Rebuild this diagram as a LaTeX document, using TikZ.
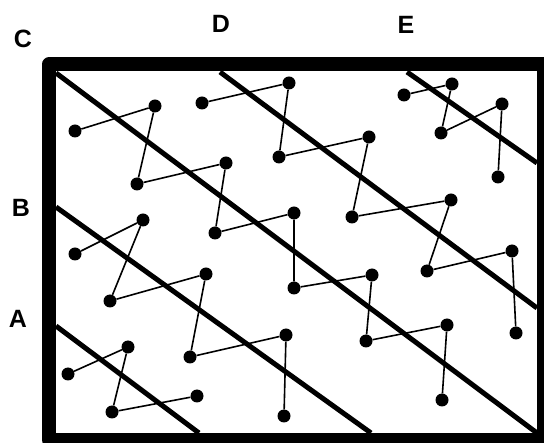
\documentclass[tikz,border=0pt]{standalone}
\usepackage{fontspec}
\setmainfont{Liberation Sans}
\usepackage{tikz}
\usetikzlibrary{calc}
\tikzset{
  dot/.style={circle,fill=black,inner sep=0pt,minimum size=13pt},
  link/.style={line width=1.6pt},
  cut/.style={line width=5pt},
  lbl/.style={font=\bfseries\fontsize{25}{25}\selectfont}
}

\begin{document}
\begin{tikzpicture}[x=1pt,y=-1pt]
    \useasboundingbox (0,0) rectangle (544,443);
    % frame
    \draw[line width=14pt,line join=round] (49,440) -- (49,64.5) -- (544,64.5) -- (544,440) -- cycle;
    % cut lines
    \draw[cut] (56,73) -- (537,433);
    \draw[cut] (56,207) -- (371,433);
    \draw[cut] (56,326) -- (199,433);
    \draw[cut] (220,72) -- (537,308);
    \draw[cut] (407,72) -- (537,163);
    % dots
    \foreach \n/\x/\y in {a1/75/131,a2/155/106,a3/137/184,a4/226/163,a5/215/233,a6/294/213,
        a7/294/288,a8/372/275,a9/366/341,a10/447/325,a11/442/400}
      \node[dot] (\n) at (\x,\y) {};
    \foreach \n/\x/\y in {b1/202/103,b2/289/83,b3/279/157,b4/369/137,b5/352/217,b6/451/200,
        b7/427/271,b8/512/251,b9/516/333}
      \node[dot] (\n) at (\x,\y) {};
    \foreach \n/\x/\y in {c1/75/254,c2/143/220,c3/110/301,c4/206/274,c5/190/357,c6/286/335,c7/284/416}
      \node[dot] (\n) at (\x,\y) {};
    \foreach \n/\x/\y in {d1/68/374,d2/128/347,d3/112/412,d4/197/396}
      \node[dot] (\n) at (\x,\y) {};
    \foreach \n/\x/\y in {e1/404/95,e2/452/84,e3/441/133,e4/502/104,e5/498/177}
      \node[dot] (\n) at (\x,\y) {};
    % chains
    \draw[link] (a1) -- (a2) -- (a3) -- (a4) -- (a5) -- (a6) -- (a7) -- (a8) -- (a9) -- (a10) -- (a11);
    \draw[link] (b1) -- (b2) -- (b3) -- (b4) -- (b5) -- (b6) -- (b7) -- (b8) -- (b9);
    \draw[link] (c1) -- (c2) -- (c3) -- (c4) -- (c5) -- (c6) -- (c7);
    \draw[link] (d1) -- (d2) -- (d3) -- (d4);
    \draw[link] (e1) -- (e2) -- (e3) -- (e4) -- (e5);
    % labels
    \node[lbl] (labC) at (23,39) {C};
    \node[lbl] (labD) at (221,24) {D};
    \node[lbl] (labE) at (406,25) {E};
    \node[lbl] (labB) at (21,208) {B};
    \node[lbl] (labA) at (18,319) {A};
  \end{tikzpicture}
\end{document}
